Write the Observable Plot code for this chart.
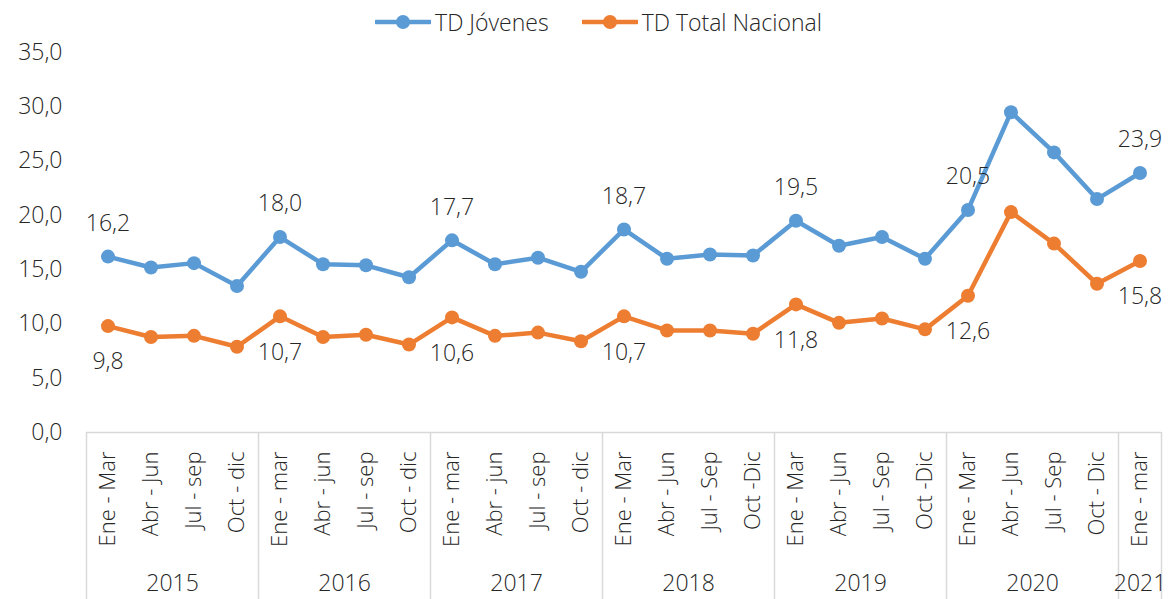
<!DOCTYPE html>
<html>
<head>
<meta charset="utf-8">
<script src="https://cdn.jsdelivr.net/npm/d3@7"></script>
<script src="https://cdn.jsdelivr.net/npm/@observablehq/plot@0.6"></script>
<style>
  html, body { margin: 0; padding: 0; background: #fff; }
  body { width: 1169px; height: 599px; overflow: hidden; font-family: "Open Sans", sans-serif; font-weight: 300; }
  #legend { height: 44px; display: flex; align-items: center; justify-content: center; padding-left: 28px; box-sizing: border-box; color: #262626; font-size: 23px; }
  .item { display: flex; align-items: center; }
  .item svg { margin-right: 4px; }
  .gap { width: 33px; }
</style>
</head>
<body>
<div id="legend"></div>
<div id="chart"></div>
<script>
const quarters = [
  "Ene - Mar", "Abr - Jun", "Jul - sep", "Oct - dic",
  "Ene - mar", "Abr - jun", "Jul - sep", "Oct - dic",
  "Ene - mar", "Abr - jun", "Jul - sep", "Oct - dic",
  "Ene - Mar", "Abr - Jun", "Jul - Sep", "Oct -Dic",
  "Ene - Mar", "Abr - Jun", "Jul - Sep", "Oct -Dic",
  "Ene - Mar", "Abr - Jun", "Jul - Sep", "Oct - Dic",
  "Ene - mar"
];
const years = ["2015", "2016", "2017", "2018", "2019", "2020", "2021"];
const yearCounts = [4, 4, 4, 4, 4, 4, 1];
const jovenes = [16.2, 15.2, 15.6, 13.5, 18.0, 15.5, 15.4, 14.3, 17.7, 15.5, 16.1, 14.8, 18.7, 16.0, 16.4, 16.3, 19.5, 17.2, 18.0, 16.0, 20.5, 29.5, 25.8, 21.5, 23.9];
const nacional = [9.8, 8.8, 8.9, 7.9, 10.7, 8.8, 9.0, 8.1, 10.6, 8.9, 9.2, 8.4, 10.7, 9.4, 9.4, 9.1, 11.8, 10.1, 10.5, 9.5, 12.6, 20.3, 17.4, 13.7, 15.8];
const yTicks = [0, 5, 10, 15, 20, 25, 30, 35];
const seriesNames = ["TD Jóvenes", "TD Total Nacional"];
const colors = ["#5B9BD5", "#ED7D31"];
const textColor = "#262626";

const fmt = v => v.toFixed(1).replace(".", ",");

// derived tables
const jov = jovenes.map((v, i) => ({i, v}));
const nac = nacional.map((v, i) => ({i, v}));
const labeled = d => d.i % 4 === 0;
let start = 0;
const yearGroups = years.map((y, k) => {
  const g = {year: y, first: start, last: start + yearCounts[k] - 1};
  start += yearCounts[k];
  return g;
});
const bounds = [yearGroups[0].first - 0.5, ...yearGroups.map(g => g.last + 0.5)];

// legend
const legend = document.getElementById("legend");
seriesNames.forEach((name, k) => {
  if (k > 0) { const gap = document.createElement("div"); gap.className = "gap"; legend.appendChild(gap); }
  const item = document.createElement("div");
  item.className = "item";
  item.innerHTML = `<svg width="56" height="16"><line x1="1" y1="8" x2="55" y2="8" stroke="${colors[k]}" stroke-width="4.5" stroke-linecap="round"/><circle cx="28" cy="8" r="7" fill="${colors[k]}"/></svg><span>${name}</span>`;
  legend.appendChild(item);
});

const chart = Plot.plot({
  width: 1169,
  height: 555,
  marginTop: 8,
  marginBottom: 167,
  marginLeft: 86,
  marginRight: 8,
  style: {fontFamily: "Open Sans, sans-serif", fontSize: "23px", fontWeight: 300, color: textColor, background: "white", overflow: "visible"},
  x: {type: "linear", domain: [-0.5, quarters.length - 0.5], axis: null},
  y: {domain: [0, 35], axis: null},
  marks: [
    Plot.axisY(yTicks, {tickSize: 0, tickPadding: 24, tickFormat: fmt, fontSize: 23, fill: textColor, label: null}),
    Plot.ruleY([0], {stroke: "#d9d9d9", strokeWidth: 1.5}),
    Plot.ruleX(bounds, {x: d => d, insetTop: 380, insetBottom: -167, stroke: "#d9d9d9", strokeWidth: 1.5}),
    Plot.text(quarters, {x: (d, i) => i, text: d => d, frameAnchor: "bottom", dy: 19, rotate: -90, textAnchor: "end", lineAnchor: "middle", fontSize: 22, fill: textColor}),
    Plot.text(yearGroups, {x: g => (g.first + g.last) / 2, text: "year", frameAnchor: "bottom", dy: 151, lineAnchor: "middle", fontSize: 23, fill: textColor}),
    Plot.line(jov, {x: "i", y: "v", stroke: colors[0], strokeWidth: 4.5}),
    Plot.dot(jov, {x: "i", y: "v", r: 7, fill: colors[0]}),
    Plot.line(nac, {x: "i", y: "v", stroke: colors[1], strokeWidth: 4.5}),
    Plot.dot(nac, {x: "i", y: "v", r: 7, fill: colors[1]}),
    Plot.text(jov.filter(labeled), {x: "i", y: "v", text: d => fmt(d.v), dy: -33, fontSize: 23, fill: textColor}),
    Plot.text(nac.filter(labeled), {x: "i", y: "v", text: d => fmt(d.v), dy: 36, fontSize: 23, fill: textColor})
  ]
});
document.getElementById("chart").appendChild(chart);
</script>
</body>
</html>
